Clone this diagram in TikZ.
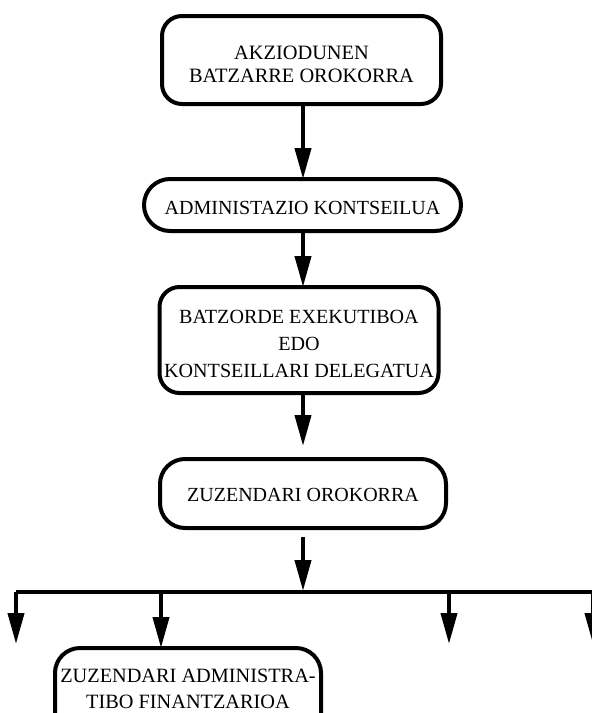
\documentclass[tikz,border=0pt]{standalone}
\usepackage{fontspec}
\setmainfont{Liberation Serif}
\usetikzlibrary{arrows.meta}
\begin{document}
\begin{tikzpicture}[x=1pt,y=-1pt,
  boxshape/.style={draw=black, line width=4pt, rectangle, rounded corners=#1, inner sep=0pt, outer sep=0pt},
  boxshape/.default=20pt,
  lbl/.style={align=center, inner sep=0pt, outer sep=0pt, font=\fontsize{20}{25}\selectfont},
  arr/.style={line width=4pt, -{Triangle[length=31pt,width=16pt]}},
  busline/.style={line width=3.6pt}]
\useasboundingbox (0,0) rectangle (592,713);
\clip (0,0) rectangle (592,713);
\coordinate (ax) at (303,0);
% boxes
\node[boxshape=20pt, minimum width=279pt, minimum height=88pt] (b1) at (301.5,60) {};
\node[lbl, font=\fontsize{20.4}{23}\selectfont] (t1) at (301.5,64) {AKZIODUNEN\\BATZARRE OROKORRA};
\node[boxshape=26pt, minimum width=317pt, minimum height=52pt] (b2) at (302.5,205) {};
\node[lbl] (t2) at (302.5,208) {ADMINISTAZIO KONTSEILUA};
\node[boxshape=20pt, minimum width=279pt, minimum height=106pt] (b3) at (299,340) {};
\node[lbl, font=\fontsize{20.1}{27}\selectfont] (t3) at (299,344) {BATZORDE EXEKUTIBOA\\EDO\\KONTSEILLARI DELEGATUA};
\node[boxshape=25pt, minimum width=286pt, minimum height=69pt] (b4) at (303,493.5) {};
\node[lbl] (t4) at (303,495) {ZUZENDARI OROKORRA};
\node[boxshape=25pt, minimum width=266pt, minimum height=112pt] (b5) at (188,704) {};
\node[lbl, font=\fontsize{20.3}{26}\selectfont] (t5) at (188,689) {ZUZENDARI ADMINISTRA-\\TIBO FINANTZARIOA};
% vertical arrows
\draw[arr] (b1.south -| ax) -- (b2.north -| ax);
\draw[arr] (b2.south -| ax) -- (b3.north -| ax);
\draw[arr] (b3.south -| ax) -- ([yshift=13pt]b4.north -| ax);
% bus
\coordinate (bl) at (16,592);
\coordinate (br) at (600,592);
\coordinate (d2) at (161,592);
\coordinate (d3) at (449,592);
\coordinate (d4) at (593,592);
\coordinate (e1) at (16,644);
\coordinate (e3) at (449,644);
\coordinate (e4) at (593,644);
\draw[arr] ([yshift=-9pt]b4.south -| ax) -- ([yshift=1pt]bl -| ax);
\draw[busline] (bl) -- (br);
\draw[arr] (bl) -- (e1);
\draw[arr] (d2) -- (d2 |- b5.north);
\draw[arr] (d3) -- (e3);
\draw[arr] (d4) -- (e4);
\end{tikzpicture}
\end{document}
